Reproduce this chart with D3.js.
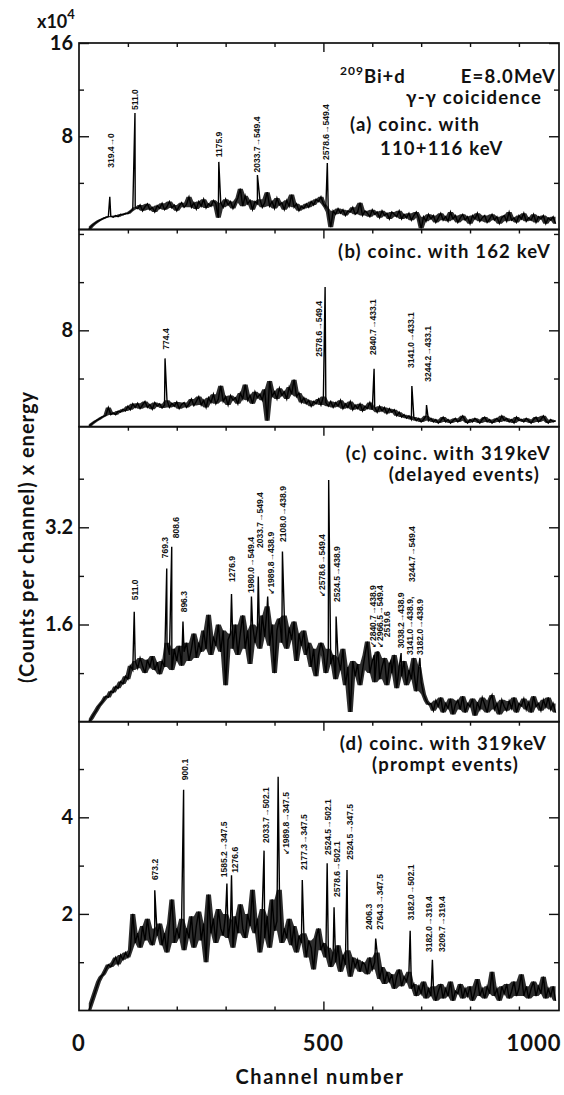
<!DOCTYPE html>
<html>
<head>
<meta charset="utf-8">
<script src="https://cdn.jsdelivr.net/npm/d3@7"></script>
<style>
body { margin: 0; background: #fff; }
text { font-family: Lato, "DejaVu Sans", sans-serif; fill: #111; font-weight: bold; }
.peak { font-family: "Liberation Sans", "DejaVu Sans", sans-serif; font-size: 8.5px; font-weight: bold; }
</style>
</head>
<body>
<script>
// spectra, one value every 5 channels starting at channel 20
var channelStart = 20, channelStep = 5;

// (a) coinc. with 110+116 keV, units of 10^4
var countsA = [
  0, 0.25, 0.45, 0.6, 0.75, 0.85, 0.95, 1.05, 1.1, 1.15,
  1.05, 1.2, 1.1, 1.3, 1.25, 1.4, 1.35, 1.55, 1.7, 1.9,
  1.8, 2.1, 1.6, 1.95, 2.2, 1.7, 1.9, 1.5, 2.05, 1.8,
  2.25, 1.7, 1.95, 2.4, 1.85, 2.1, 1.6, 2.0, 2.3, 1.9,
  2.15, 2.8, 1.9, 2.3, 1.75, 2.4, 2.0, 2.6, 1.85, 2.2,
  2.0, 2.5, 2.2, 1.0, 2.3, 1.9, 2.6, 2.1, 2.4, 1.8,
  2.3, 2.7, 3.5, 2.0, 2.9, 2.2, 2.5, 1.7, 2.4, 2.2,
  2.6, 1.9, 2.3, 3.2, 2.0, 2.4, 1.8, 2.7, 2.1, 2.3,
  1.7, 2.5, 2.0, 3.0, 1.9, 2.2, 1.6, 2.0, 1.8, 2.2,
  1.9, 2.4, 2.1, 2.6, 2.4, 2.8, 2.2, 1.9, 1.5, 0.2,
  1.6, 1.3, 1.8, 1.4, 1.7, 1.2, 1.6, 1.5, 1.9, 1.3,
  1.5, 2.3, 1.2, 1.6, 1.4, 1.1, 1.7, 1.3, 1.5, 1.0,
  1.6, 1.2, 1.4, 0.9, 1.5, 1.3, 1.1, 1.6, 0.9, 1.3,
  1.0, 1.4, 0.8, 1.2, 1.5, 1.0, 0.1, 1.1, 0.7, 1.3,
  0.9, 1.2, 0.6, 1.0, 1.4, 0.8, 1.1, 0.7, 1.5, 0.9,
  1.2, 0.6, 1.0, 1.3, 0.8, 1.1, 0.5, 1.2, 0.9, 1.4,
  0.7, 1.0, 1.2, 0.6, 0.9, 1.3, 0.8, 1.1, 0.5, 1.0,
  1.2, 0.7, 1.5, 0.8, 1.0, 0.6, 1.2, 0.9, 1.4, 0.7,
  1.0, 0.8, 1.3, 0.6, 1.1, 0.9, 1.2, 0.5, 1.0, 0.8,
  1.1, 0.5
];

// (b) coinc. with 162 keV
var countsB = [
  0, 0.2, 0.35, 0.5, 0.6, 0.75, 0.85, 0.95, 1.6, 1.0,
  1.15, 1.0, 1.3, 1.2, 1.45, 1.3, 1.7, 1.4, 1.9, 1.6,
  1.95, 1.5, 1.8, 2.1, 1.6, 1.85, 1.45, 2.0, 1.7, 1.9,
  1.55, 1.8, 2.2, 1.6, 1.95, 1.7, 2.05, 1.5, 1.85, 2.0,
  1.6, 1.9, 2.3, 1.75, 2.1, 2.5, 1.8, 2.2, 1.6, 2.4,
  2.0, 2.7, 1.9, 2.3, 3.4, 2.1, 2.5, 1.8, 2.6, 2.2,
  2.4, 1.9, 2.8, 2.3, 3.5, 2.2, 2.6, 1.9, 2.9, 2.4,
  2.7, 2.2, 3.1, 0.5, 3.8, 2.5, 2.9, 2.3, 3.2, 2.6,
  2.9, 2.3, 3.3, 2.7, 3.9, 2.5, 2.8, 2.0, 2.4, 1.9,
  2.2, 1.7, 2.1, 1.9, 2.3, 1.8, 2.5, 2.0, 1.7, 2.1,
  1.6, 2.0, 1.7, 2.2, 1.5, 1.9, 1.6, 2.1, 1.4, 1.8,
  1.5, 1.9, 1.3, 1.7, 1.5, 2.0, 1.4, 1.6, 1.2, 1.7,
  1.3, 1.6, 1.1, 1.5, 1.2, 1.4, 0.9, 1.2, 0.8, 1.0,
  0.7, 0.9, 0.6, 0.8, 0.5, 0.7, 0.4, 0.6, 0.9, 0.5,
  0.7, 0.4, 0.6, 0.3, 0.5, 0.8, 0.4, 0.6, 0.3, 0.5,
  0.7, 0.4, 0.6, 0.9, 0.5, 0.3, 0.6, 0.4, 0.7, 0.5,
  0.3, 0.6, 0.8, 0.4, 0.6, 0.3, 0.5, 0.7, 0.4, 0.9,
  0.5, 0.7, 0.4, 0.6, 0.3, 0.8, 0.5, 0.6, 0.4, 0.7,
  0.5, 0.3, 0.6, 0.8, 0.4, 0.6, 0.9, 0.5, 0.3, 0.6,
  0.4, 0.5
];

// (c) coinc. with 319 keV, delayed events
var countsC = [
  0, 0.05, 0.12, 0.18, 0.25, 0.3, 0.35, 0.42, 0.4, 0.5,
  0.48, 0.58, 0.55, 0.66, 0.62, 0.75, 0.7, 0.92, 0.85, 1.0,
  0.88, 1.05, 0.92, 0.8, 1.02, 0.9, 1.08, 0.85, 0.98, 0.78,
  1.0, 0.9, 1.3, 1.1, 0.85, 1.2, 1.0, 1.25, 0.92, 1.15,
  1.3, 1.0, 1.2, 1.45, 1.05, 1.3, 1.15, 1.5, 1.2, 1.76,
  1.1, 1.4, 1.25, 1.6, 1.15, 1.5, 0.6, 1.35, 1.45, 1.2,
  1.6, 1.1, 1.45, 1.75, 1.2, 1.5, 0.95, 1.6, 1.3, 1.55,
  1.2, 1.75, 1.4, 1.9, 1.25, 1.6, 0.8, 1.5, 1.7, 1.3,
  1.75, 1.2, 1.55, 1.35, 1.65, 1.0, 1.45, 1.25, 1.5, 1.1,
  1.3, 0.9, 1.2, 0.75, 1.1, 1.3, 1.15, 0.8, 1.2, 0.95,
  1.1, 0.7, 1.05, 0.85, 1.2, 0.6, 0.9, 0.16, 1.0, 0.75,
  0.95, 0.6, 0.85, 1.1, 1.32, 0.8, 1.0, 0.65, 1.15, 0.7,
  0.9, 1.05, 0.6, 0.95, 0.8, 1.1, 0.55, 0.9, 0.75, 1.0,
  0.6, 0.85, 0.7, 1.05, 0.5, 0.9, 0.65, 0.45, 0.35, 0.28,
  0.3, 0.18, 0.35, 0.25, 0.4, 0.15, 0.3, 0.22, 0.38, 0.12,
  0.28, 0.35, 0.2, 0.42, 0.15, 0.3, 0.25, 0.38, 0.1, 0.32,
  0.2, 0.4, 0.28, 0.15, 0.35, 0.44, 0.2, 0.3, 0.12, 0.36,
  0.25, 0.18, 0.34, 0.22, 0.4, 0.15, 0.3, 0.26, 0.38, 0.2,
  0.32, 0.15, 0.42, 0.25, 0.3, 0.18, 0.36, 0.24, 0.4, 0.2,
  0.3, 0.15
];

// (d) coinc. with 319 keV, prompt events
var countsD = [
  0, 0.15, 0.3, 0.45, 0.6, 0.7, 0.75, 0.85, 0.95, 0.9,
  1.0, 1.1, 0.95, 1.15, 1.05, 1.2, 1.1, 1.25, 2.0, 1.4,
  1.6, 1.3, 1.75, 1.45, 1.9, 1.5, 1.35, 1.7, 1.55, 1.8,
  1.35, 1.6, 1.2, 1.8, 2.3, 1.4, 1.7, 1.5, 1.9, 1.25,
  1.7, 1.5, 1.95, 1.3, 1.75, 2.05, 1.45, 1.8, 1.0, 2.4,
  1.6, 1.9, 1.4, 2.1, 1.7, 1.55, 2.0, 1.5, 1.85, 1.3,
  1.95, 1.6, 2.2, 1.7, 1.5, 2.0, 1.75, 2.5, 1.6, 1.9,
  1.2, 2.1, 1.5, 1.95, 1.3, 2.3, 1.65, 1.85, 2.5, 1.4,
  1.7, 1.5, 1.9, 1.35, 1.75, 1.2, 1.55, 1.4, 1.6, 1.1,
  1.45, 1.3, 0.85, 1.5, 1.7, 1.25, 1.4, 1.1, 1.3, 0.9,
  1.2, 1.0, 1.35, 0.8, 1.15, 0.95, 1.25, 0.7, 1.1, 0.9,
  1.05, 0.8, 1.0, 0.95, 0.75, 1.1, 0.85, 1.0, 1.2, 0.65,
  0.9, 0.55, 0.8, 0.6, 0.75, 0.45, 0.7, 0.85, 0.5, 0.7,
  0.6, 0.8, 0.45, 0.55, 0.3, 0.5, 0.35, 0.6, 0.25, 0.45,
  0.3, 0.5, 0.2, 0.4, 0.55, 0.25, 0.45, 0.3, 0.6, 0.2,
  0.4, 0.35, 0.55, 0.25, 0.45, 0.3, 0.5, 0.2, 0.4, 0.65,
  0.3, 0.45, 0.25, 0.5, 0.35, 0.8, 0.3, 0.45, 0.2, 0.5,
  0.35, 0.55, 0.25, 0.4, 0.6, 0.3, 0.45, 0.75, 0.3, 0.5,
  0.25, 0.45, 0.6, 0.3, 0.5, 0.35, 0.7, 0.25, 0.45, 0.3,
  0.5, 0.2
];

// peaks: [channel, height, label channel, label level, label]
var peaksA = [
  [63, 2.8, 66, 5.3, "319.4\u21920"],
  [114.5, 10.0, 114.5, 10.25, "511.0"],
  [286, 5.8, 286, 6.2, "1175.9"],
  [365, 4.67, 364, 4.9, "2033.7\u2192549.4"],
  [508, 5.7, 506, 5.96, "2578.6\u2192549.4"]
];
var peaksB = [
  [176, 5.67, 177, 6.4, "774.4"],
  [503.5, 11.6, 491, 5.8, "2578.6\u2192549.4"],
  [603.7, 4.8, 601.5, 5.95, "2840.7\u2192433.1"],
  [681, 3.38, 679, 4.87, "3141.0\u2192433.1"],
  [711, 1.8, 713.7, 3.73, "3244.2\u2192433.1"]
];
var peaksC = [
  [113, 1.81, 114.5, 2.0, "511.0"],
  [179.5, 2.52, 175, 2.69, "769.3"],
  [189.7, 2.88, 198, 3.02, "808.6"],
  [212.7, 1.65, 214, 1.8, "896.3"],
  [312, 2.1, 313.7, 2.3, "1276.9"],
  [352.8, 2.06, 352.8, 2.12, "1980.0\u2192549.4"],
  [366.8, 2.39, 371, 2.86, "2033.7\u2192549.4"],
  [386, 2.06, 393, 2.09, "\u21991989.8\u2192438.9"],
  [416.2, 2.8, 418, 2.96, "2108.0\u2192438.9"],
  [510.8, 3.98, 496.7, 2.05, "\u21992578.6\u2192549.4"],
  [526, 1.73, 527.7, 1.97, "2524.5\u2192438.9"],
  [604, 1.1, 601.5, 1.21, "\u21992840.7\u2192438.9"],
  [612, 1.15, 616.3, 1.21, "\u21992966.5\u2192549.4"],
  [638, 1.0, 631, 1.39, "2519.6"],
  [659, 1.13, 659, 1.21, "3038.2\u2192438.9"],
  [685, 0.85, 677.5, 1.1, "3141.0\u2192438.9,"],
  [685, 0.85, 680.5, 2.3, "3244.7\u2192549.4"],
  [697.4, 1.05, 697.5, 1.1, "3182.0\u2192438.9"]
];
var peaksD = [
  [155, 2.49, 156.5, 2.7, "673.2"],
  [214, 4.57, 217.8, 4.77, "900.1"],
  [302.6, 2.63, 297.5, 2.76, "1585.2\u2192347.5"],
  [312, 2.8, 319.6, 2.85, "1276.6"],
  [378.6, 3.31, 382.4, 3.47, "2033.7\u2192502.1"],
  [407.4, 4.84, 424.4, 3.22, "\u21991989.8\u2192347.5"],
  [456.8, 2.7, 461.3, 2.91, "2177.3\u2192347.5"],
  [507.7, 3.05, 509.2, 3.22, "2524.5\u2192502.1"],
  [521.8, 2.14, 527.7, 2.35, "2578.6\u2192502.1"],
  [548.3, 2.91, 553.5, 3.12, "2524.5\u2192347.5"],
  [607, 1.49, 594, 1.67, "2406.3"],
  [607, 1.49, 616, 1.67, "2764.3\u2192347.5"],
  [677.5, 1.65, 679, 1.87, "3182.0\u2192502.1"],
  [723, 1.05, 716, 1.21, "3182.0\u2192319.4"],
  [723, 1.05, 742, 1.21, "3209.7\u2192319.4"]
];

var channelTicks = [100, 200, 300, 400, 600, 700, 800, 900];
var channelMajor = [500];
var channelLabels = [0, 500, 1000];

var width = 564, height = 1095;
var svg = d3.select("body").append("svg")
    .attr("width", width)
    .attr("height", height);

var x = d3.scaleLinear().domain([0, 982]).range([79, 559]);
var left = x.range()[0], right = x.range()[1];

var panels = [
  {counts: countsA, peaks: peaksA, top: 43, bottom: 229.5, max: 16, minor: [4, 12], major: [8, 16]},
  {counts: countsB, peaks: peaksB, top: 229.5, bottom: 426.7, max: 16.37, minor: [4, 12, 16], major: [8]},
  {counts: countsC, peaks: peaksC, top: 426.7, bottom: 721.7, max: 4.856, minor: [0.8, 2.4, 4.0], major: [1.6, 3.2]},
  {counts: countsD, peaks: peaksD, top: 721.7, bottom: 1010.5, max: 5.98, minor: [1, 3, 5], major: [2, 4]}
];

var line = d3.line();
var band = d3.area();

panels.forEach(function(p) {
    var y = d3.scaleLinear().domain([0, p.max]).range([p.bottom, p.top]);
    var g = svg.append("g");

    // scatter band: local min / max of neighbouring samples, drawn under the trace
    var n = p.counts.length;
    var spread = p.counts.map(function(v, i) {
        var w = p.counts.slice(Math.max(0, i - 1), Math.min(n, i + 2));
        return [channelStart + i * channelStep, d3.min(w), d3.max(w)];
    });
    band.x(function(d) { return x(d[0]); })
        .y0(function(d) { return y(d[1]); })
        .y1(function(d) { return y(d[2]); });
    g.append("path")
        .attr("d", band(spread))
        .attr("fill", "#000")
        .attr("fill-opacity", 0.82);

    // spectrum with peaks merged in
    var pts = p.counts.map(function(v, i) { return [channelStart + i * channelStep, v]; })
        .concat(p.peaks.map(function(d) { return [d[0], d[1]]; }));
    pts.sort(function(a, b) { return a[0] - b[0]; });

    line.x(function(d) { return x(d[0]); })
        .y(function(d) { return y(d[1]); });

    g.append("path")
        .attr("d", line(pts))
        .attr("fill", "none")
        .attr("stroke", "#000")
        .attr("stroke-width", 1.4);

    // peak labels, rotated
    g.selectAll("text.peak")
        .data(p.peaks)
        .enter()
        .append("text")
        .attr("class", "peak")
        .attr("transform", function(d) {
            return "translate(" + x(d[2]) + "," + y(d[3]) + ") rotate(-90)";
        })
        .attr("dy", "0.35em")
        .text(function(d) { return d[4]; });

    // frame
    g.append("rect")
        .attr("x", left).attr("y", p.top)
        .attr("width", right - left).attr("height", p.bottom - p.top)
        .attr("fill", "none")
        .attr("stroke", "#111")
        .attr("stroke-width", 1.7);

    // inward ticks
    var axes = [
        d3.axisLeft(y).tickValues(p.minor).tickSize(-5).tickFormat(""),
        d3.axisRight(y).tickValues(p.minor).tickSize(-5).tickFormat(""),
        d3.axisRight(y).tickValues(p.major).tickSize(-10).tickFormat("")
    ];
    axes.forEach(function(a, i) {
        g.append("g")
            .attr("transform", "translate(" + (i === 0 ? left : right) + ",0)")
            .call(a)
            .call(function(s) { s.select(".domain").remove(); });
    });
    g.append("g")
        .attr("transform", "translate(" + left + ",0)")
        .call(d3.axisLeft(y).tickValues(p.major).tickSize(-10).tickPadding(6)
            .tickFormat(function(d) { return String(d); }))
        .call(function(s) {
            s.select(".domain").remove();
            s.selectAll("text").attr("font-size", 20).attr("font-family", "Lato").attr("fill", "#111");
        });

    g.append("g")
        .attr("transform", "translate(0," + p.top + ")")
        .call(d3.axisTop(x).tickValues(channelTicks).tickSize(-4).tickFormat(""))
        .call(function(s) { s.select(".domain").remove(); });
    g.append("g")
        .attr("transform", "translate(0," + p.top + ")")
        .call(d3.axisTop(x).tickValues(channelMajor).tickSize(-9).tickFormat(""))
        .call(function(s) { s.select(".domain").remove(); });
});

var last = panels[panels.length - 1];
svg.append("g")
    .attr("transform", "translate(0," + last.bottom + ")")
    .call(d3.axisBottom(x).tickValues(channelTicks).tickSize(-4).tickFormat(""))
    .call(function(s) { s.select(".domain").remove(); });
svg.append("g")
    .attr("transform", "translate(0," + last.bottom + ")")
    .call(d3.axisBottom(x).tickValues(channelMajor).tickSize(-9).tickFormat(""))
    .call(function(s) { s.select(".domain").remove(); });

svg.selectAll(".tick line").attr("stroke", "#111").attr("stroke-width", 1.4);

// channel labels
svg.selectAll("text.xlab")
    .data(channelLabels)
    .enter()
    .append("text")
    .attr("class", "xlab")
    .attr("x", function(d) { return Math.min(x(d), 534); })
    .attr("y", 1051)
    .attr("text-anchor", "middle")
    .attr("font-size", 22)
    .attr("letter-spacing", 1)
    .text(function(d) { return d; });

svg.append("text")
    .attr("x", 320).attr("y", 1084)
    .attr("text-anchor", "middle")
    .attr("font-size", 20)
    .attr("letter-spacing", 1.6)
    .text("Channel number");

svg.append("text")
    .attr("transform", "translate(34,537) rotate(-90)")
    .attr("text-anchor", "middle")
    .attr("font-size", 20)
    .attr("letter-spacing", 1)
    .text("(Counts per channel) x energy");

// x10^4
var mult = svg.append("text").attr("x", 37).attr("y", 28).attr("font-size", 18);
mult.append("tspan").text("x10");
mult.append("tspan").attr("font-size", 13).attr("dy", -9).text("4");

// panel captions
var t1 = svg.append("text").attr("x", 340).attr("y", 83).attr("font-size", 18.5).attr("letter-spacing", 1);
t1.append("tspan").attr("font-size", 12).attr("dy", -8).text("209");
t1.append("tspan").attr("dy", 8).text("Bi+d");
var captions = [
  [556, 83, "end", "E=8.0MeV"],
  [542, 104, "end", "\u03b3-\u03b3 coicidence"],
  [350, 131, "start", "(a) coinc. with"],
  [380, 155, "start", "110+116 keV"],
  [551, 258, "end", "(b) coinc. with 162 keV"],
  [551, 460, "end", "(c) coinc. with 319keV"],
  [540, 481, "end", "(delayed events)"],
  [547, 750, "end", "(d) coinc. with 319keV"],
  [519, 771, "end", "(prompt events)"]
];
captions.forEach(function(c) {
    svg.append("text")
        .attr("x", c[0]).attr("y", c[1])
        .attr("text-anchor", c[2])
        .attr("font-size", 18.5)
        .attr("letter-spacing", 1.2)
        .text(c[3]);
});
</script>
</body>
</html>
